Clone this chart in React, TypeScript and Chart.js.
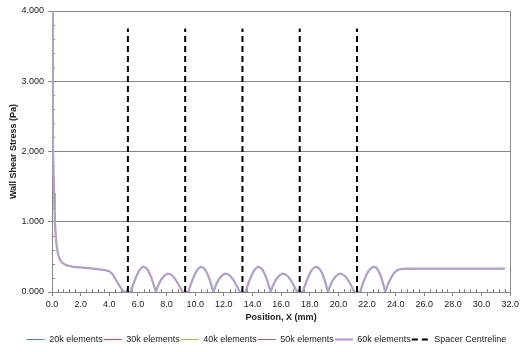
import React, { useEffect, useRef } from "react";
import { Chart, registerables } from "chart.js";

Chart.register(...registerables);

// ---- Data ----
const POSITION = [
  0.0, 0.03, 0.06, 0.1, 0.14, 0.2, 0.26, 0.33, 0.42, 0.55, 0.7, 0.9, 1.2, 1.6, 2.0, 2.5, 3.0, 3.4, 3.7, 4.0,
  4.25, 4.5, 4.75, 4.95, 5.05, 5.5,
  5.6, 5.75, 5.9, 6.05, 6.2, 6.37, 6.55, 6.7, 6.85, 7.0, 7.12, 7.25,
  7.35, 7.5, 7.65, 7.85, 8.05, 8.25, 8.45, 8.65, 8.85, 9.0, 9.12, 9.52,
  9.62, 9.77, 9.92, 10.07, 10.22, 10.39, 10.57, 10.72, 10.87, 11.02, 11.14, 11.27,
  11.37, 11.52, 11.67, 11.87, 12.07, 12.27, 12.47, 12.67, 12.87, 13.0, 13.12, 13.52,
  13.62, 13.77, 13.92, 14.07, 14.22, 14.39, 14.57, 14.72, 14.87, 15.02, 15.14, 15.27,
  15.37, 15.52, 15.67, 15.87, 16.07, 16.27, 16.47, 16.67, 16.87, 17.0, 17.12, 17.52,
  17.62, 17.77, 17.92, 18.07, 18.22, 18.42, 18.6, 18.75, 18.9, 19.04, 19.15, 19.27,
  19.37, 19.52, 19.67, 19.87, 20.07, 20.27, 20.47, 20.67, 20.87, 21.0, 21.12, 21.52,
  21.62, 21.77, 21.92, 22.07, 22.25, 22.47, 22.65, 22.78, 22.92, 23.05, 23.16, 23.27,
  23.4, 23.55, 23.7, 23.85, 24.0, 24.2, 24.45, 24.8, 25.5, 27.0, 29.0, 31.6,
];

const WALL_SHEAR = [
  4.0, 3.0, 2.3, 1.75, 1.4, 1.02, 0.8, 0.65, 0.54, 0.46, 0.42, 0.39, 0.37, 0.355, 0.35, 0.34, 0.33, 0.32, 0.31, 0.295,
  0.25, 0.16, 0.075, 0.015, 0.0, 0.0,
  0.07, 0.15, 0.23, 0.29, 0.335, 0.36, 0.345, 0.31, 0.25, 0.17, 0.09, 0.0,
  0.06, 0.13, 0.185, 0.235, 0.26, 0.255, 0.225, 0.17, 0.1, 0.045, 0.0, 0.0,
  0.07, 0.15, 0.23, 0.29, 0.335, 0.36, 0.345, 0.31, 0.25, 0.17, 0.09, 0.0,
  0.06, 0.13, 0.185, 0.235, 0.26, 0.255, 0.225, 0.17, 0.1, 0.045, 0.0, 0.0,
  0.07, 0.15, 0.23, 0.29, 0.335, 0.36, 0.345, 0.31, 0.25, 0.17, 0.09, 0.0,
  0.06, 0.13, 0.185, 0.235, 0.26, 0.255, 0.225, 0.17, 0.1, 0.045, 0.0, 0.0,
  0.07, 0.15, 0.23, 0.29, 0.335, 0.36, 0.345, 0.31, 0.25, 0.17, 0.09, 0.0,
  0.06, 0.13, 0.185, 0.235, 0.26, 0.255, 0.225, 0.17, 0.1, 0.045, 0.0, 0.0,
  0.07, 0.15, 0.23, 0.29, 0.335, 0.36, 0.345, 0.31, 0.25, 0.17, 0.09, 0.0,
  0.08, 0.15, 0.21, 0.26, 0.295, 0.318, 0.328, 0.332, 0.333, 0.333, 0.333, 0.333,
];

const SERIES_NAMES = ["20k elements", "30k elements", "40k elements", "50k elements", "60k elements"];
const SERIES_COLORS = ["#4f81bd", "#c0504d", "#9bbb59", "#8064a2", "#b3a2c7"];
const SERIES_WIDTHS = [1, 1, 1, 1, 2.25];

const SPACER_NAME = "Spacer Centreline";
const SPACER_POSITIONS = [5.3, 9.3, 13.3, 17.3, 21.3];
const SPACER_TOP = 3.75;

const X_MIN = 0;
const X_MAX = 32;
const X_STEP = 2;
const X_MINOR_STEP = 0.4;
const Y_MIN = 0;
const Y_MAX = 4;
const Y_STEP = 1;
const Y_MINOR_STEP = 0.2;

const X_TITLE = "Position, X (mm)";
const Y_TITLE = "Wall Shear Stress (Pa)";

const AXIS_COLOR = "#868686";
const TEXT_COLOR = "#1a1a1a";
const FONT = "'Liberation Sans', Arial, sans-serif";

const minorTicksPlugin = {
  id: "minorTicks",
  beforeDatasetsDraw(chart: any) {
    const { ctx, chartArea } = chart;
    const xs = chart.scales.x;
    const ys = chart.scales.y;
    ctx.save();
    ctx.strokeStyle = AXIS_COLOR;
    ctx.lineWidth = 1;
    ctx.beginPath();
    const nx = Math.round((X_MAX - X_MIN) / X_MINOR_STEP);
    for (let i = 1; i < nx; i++) {
      const v = X_MIN + i * X_MINOR_STEP;
      if (i % Math.round(X_STEP / X_MINOR_STEP) === 0) continue;
      const px = Math.round(xs.getPixelForValue(v)) + 0.5;
      ctx.moveTo(px, chartArea.bottom);
      ctx.lineTo(px, chartArea.bottom - 3);
    }
    const ny = Math.round((Y_MAX - Y_MIN) / Y_MINOR_STEP);
    for (let i = 1; i < ny; i++) {
      const v = Y_MIN + i * Y_MINOR_STEP;
      if (i % Math.round(Y_STEP / Y_MINOR_STEP) === 0) continue;
      const py = Math.round(ys.getPixelForValue(v)) + 0.5;
      ctx.moveTo(chartArea.left, py);
      ctx.lineTo(chartArea.left + 3, py);
    }
    ctx.stroke();
    ctx.restore();
  },
};

export default function App() {
  const canvasRef = useRef<HTMLCanvasElement | null>(null);

  useEffect(() => {
    const canvas = canvasRef.current;
    if (!canvas) return;

    const curve = POSITION.map((x, i) => ({ x, y: WALL_SHEAR[i] }));
    const spacer: { x: number; y: number | null }[] = [];
    SPACER_POSITIONS.forEach((p) => {
      spacer.push({ x: p, y: 0 });
      spacer.push({ x: p, y: SPACER_TOP });
      spacer.push({ x: p, y: null });
    });

    const datasets: any[] = SERIES_NAMES.map((name, i) => ({
      label: name,
      data: curve,
      borderColor: SERIES_COLORS[i],
      backgroundColor: SERIES_COLORS[i],
      borderWidth: SERIES_WIDTHS[i],
      pointRadius: 0,
      tension: 0,
      order: i === SERIES_NAMES.length - 1 ? -1 : i,
    }));
    datasets.push({
      label: SPACER_NAME,
      data: spacer,
      borderColor: "#000000",
      backgroundColor: "#000000",
      borderWidth: 2,
      borderDash: [6, 4],
      pointRadius: 0,
      spanGaps: false,
      order: -2,
    });

    const chart = new Chart(canvas, {
      type: "line",
      data: { datasets },
      plugins: [minorTicksPlugin],
      options: {
        animation: false,
        responsive: false,
        devicePixelRatio: 1,
        layout: { padding: { top: 11, right: -3, left: 8, bottom: -2 } },
        plugins: {
          tooltip: { enabled: false },
          legend: {
            display: true,
            position: "bottom",
            labels: {
              usePointStyle: true,
              pointStyleWidth: 18,
              boxHeight: 9,
              padding: 1,
              color: TEXT_COLOR,
              font: { family: FONT, size: 9 },
              generateLabels: (ch: any) =>
                ch.data.datasets.map((ds: any, i: number) => ({
                  text: ds.label,
                  fillStyle: ds.borderColor,
                  strokeStyle: ds.borderColor,
                  lineWidth: ds.borderWidth,
                  lineDash: ds.borderDash || [],
                  lineCap: "butt",
                  pointStyle: "line",
                  hidden: false,
                  datasetIndex: i,
                  fontColor: TEXT_COLOR,
                })),
            },
          },
        },
        scales: {
          x: {
            type: "linear",
            min: X_MIN,
            max: X_MAX,
            afterFit: (scale: any) => {
              scale.height = 42;
            },
            ticks: {
              stepSize: X_STEP,
              autoSkip: false,
              maxRotation: 0,
              padding: 3,
              color: TEXT_COLOR,
              font: { family: FONT, size: 9 },
              callback: (v: any) => Number(v).toFixed(1),
            },
            grid: {
              drawOnChartArea: false,
              drawTicks: true,
              tickLength: 4,
              color: AXIS_COLOR,
              tickColor: AXIS_COLOR,
            },
            border: { display: true, color: AXIS_COLOR, width: 1 },
            title: {
              display: true,
              text: X_TITLE,
              color: TEXT_COLOR,
              font: { family: FONT, size: 9, weight: "bold" },
              padding: { top: 4, bottom: 11 },
            },
          },
          y: {
            type: "linear",
            min: Y_MIN,
            max: Y_MAX,
            afterFit: (scale: any) => {
              scale.width = 44;
            },
            ticks: {
              stepSize: Y_STEP,
              padding: 4,
              color: TEXT_COLOR,
              font: { family: FONT, size: 9 },
              callback: (v: any) => Number(v).toFixed(3),
            },
            grid: {
              drawOnChartArea: true,
              drawTicks: true,
              tickLength: 4,
              color: AXIS_COLOR,
              tickColor: AXIS_COLOR,
            },
            border: { display: true, color: AXIS_COLOR, width: 1 },
            title: {
              display: true,
              text: Y_TITLE,
              color: TEXT_COLOR,
              font: { family: FONT, size: 9, weight: "bold" },
              padding: { top: 0, bottom: 0 },
            },
          },
          y2: {
            type: "linear",
            position: "right",
            min: Y_MIN,
            max: Y_MAX,
            afterFit: (scale: any) => {
              scale.width = 12;
            },
            ticks: { display: false },
            grid: { drawOnChartArea: false, drawTicks: false },
            border: { display: true, color: AXIS_COLOR, width: 1 },
          },
        },
      },
    });

    return () => chart.destroy();
  }, []);

  return (
    <div style={{ position: "fixed", left: 0, top: 0, width: 522, height: 352, background: "#ffffff" }}>
      <canvas ref={canvasRef} width={522} height={352} style={{ display: "block" }} />
    </div>
  );
}
